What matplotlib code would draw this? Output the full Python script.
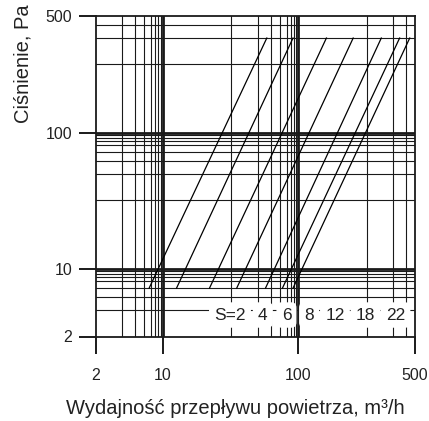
import matplotlib
matplotlib.use('Agg')

import matplotlib.pyplot as plt
import numpy as np

plt.rcParams['font.family'] = ['Liberation Sans', 'DejaVu Sans']

# the chart grid is not a true log grid: every decade is split the same way,
# these are the positions of 1..10 inside one decade (0 = start, 1 = end)
DECADE_MANTISSA = [1, 2, 3, 4, 5, 6, 7, 8, 9, 10]
DECADE_POS = [0.0, 0.507, 0.70, 0.797, 0.862, 0.915, 0.946, 0.968, 0.985, 1.0]

GRID_THIN = [3, 4, 5, 6, 7, 8, 9, 20, 30, 40, 50, 60, 70, 80, 90, 200, 300, 400]
GRID_BOLD = [10, 100]
TICKS = [2, 10, 100, 500]
TICK_LABELS = ['2', '10', '100', '500']

# characteristic lines, flow (m3/h) at the low and at the high pressure end
S_LABELS = ['S=2', '4', '6', '8', '12', '18', '22']
P_LOW = 5
P_HIGH = 300
FLOW_LOW = [5.7, 12, 16.8, 22, 36, 54, 77]
FLOW_HIGH = [37, 77, 141, 180, 255, 350, 440]

# where the S labels sit along the bottom row (axes fraction)
S_LABEL_X = [0.42, 0.523, 0.597, 0.668, 0.749, 0.845, 0.939]

# build the anchor table for the custom scale
anchor_v = []
anchor_p = []
for d in range(3):
    for m, f in zip(DECADE_MANTISSA, DECADE_POS):
        v = m * 10 ** d
        if anchor_v and v <= anchor_v[-1]:
            continue
        anchor_v.append(v)
        anchor_p.append(d + f)


def forward(v):
    return np.interp(np.asarray(v, dtype=float), anchor_v, anchor_p)


def inverse(p):
    return np.interp(np.asarray(p, dtype=float), anchor_p, anchor_v)


fig = plt.figure(figsize=(4.29, 4.21), dpi=100)
ax = fig.add_axes([96 / 429, 1 - 336.5 / 421, 319 / 429, 320.5 / 421])

ax.set_xscale('function', functions=(forward, inverse))
ax.set_yscale('function', functions=(forward, inverse))
ax.set_xlim(2, 500)
ax.set_ylim(2, 500)

line_col = '#1a1a1a'
for g in GRID_THIN:
    ax.axvline(g, color=line_col, lw=0.8, zorder=1)
    ax.axhline(g, color=line_col, lw=0.8, zorder=1)
for g in GRID_BOLD:
    ax.axvline(g, color=line_col, lw=2.0, zorder=1)
    ax.axhline(g, color=line_col, lw=2.0, zorder=1)

for lo, hi in zip(FLOW_LOW, FLOW_HIGH):
    ax.plot([lo, hi], [P_LOW, P_HIGH], color='black', lw=0.9, zorder=2)

for lab, xf in zip(S_LABELS, S_LABEL_X):
    ax.text(xf, 0.067, lab, transform=ax.transAxes, ha='center', va='center',
            fontsize=12.5, color='#222222', zorder=5,
            bbox=dict(boxstyle='round,pad=0.3', fc='white', ec='none'))

ax.set_xticks(TICKS)
ax.set_xticklabels(TICK_LABELS)
ax.set_yticks(TICKS)
ax.set_yticklabels(TICK_LABELS)
ax.minorticks_off()
ax.tick_params(which='major', length=12, width=1.4, color=line_col,
               labelsize=11.5, labelcolor='#222222')
ax.tick_params(axis='x', pad=11)
ax.tick_params(axis='y', pad=5)

for s in ax.spines.values():
    s.set_linewidth(1.3)
    s.set_color(line_col)

fig.text(235 / 429, 1 - 408 / 421, 'Wydajność przepływu powietrza, m³/h',
         ha='center', va='center', fontsize=14.5, color='#222222')
fig.text(23 / 429, 1 - 64 / 421, 'Ciśnienie, Pa', rotation=90,
         ha='center', va='center', fontsize=14.5, color='#222222')

fig.savefig('out.png', dpi=100)
